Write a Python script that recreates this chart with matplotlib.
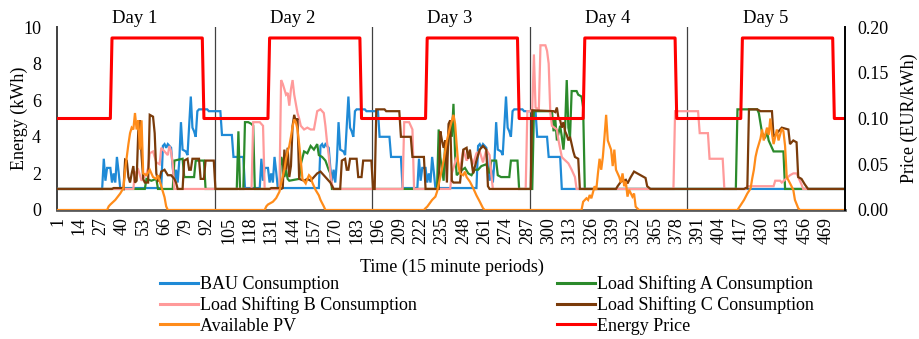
import matplotlib.pyplot as plt
from matplotlib.lines import Line2D
from matplotlib.ticker import FormatStrFormatter

# (period, energy kWh) vertices, 15 minute periods 1..480
bau = [(1, 1.15), (28, 1.15), (29, 2.8), (30, 1.6), (31, 2.3), (33, 2.3), (34, 1.5), (35, 2.0), (36, 1.5), (37, 2.9),
       (38, 2.1), (39, 1.2), (64, 1.2), (65, 3.5), (66, 3.6), (67, 3.4), (68, 3.6), (70, 3.4), (71, 2.3), (72, 1.6),
       (73, 2.2), (74, 1.5), (75, 2.7), (76, 4.8), (77, 3.3), (79, 3.2), (80, 3.0), (81, 4.6), (82, 6.2), (83, 4.5),
       (84, 4.3), (85, 4.0), (86, 5.4), (87, 5.5), (92, 5.5), (93, 5.4),
       (100, 5.4), (101, 4.1), (107, 4.1), (108, 2.9), (114, 2.9), (115, 1.2), (124, 1.2), (125, 2.8), (126, 1.6), (127, 2.3),
       (129, 2.3), (130, 1.5), (131, 2.0), (132, 1.5), (133, 2.9), (134, 2.1), (135, 1.2), (160, 1.2), (161, 3.5), (162, 3.6),
       (163, 3.4), (164, 3.6), (166, 3.4), (167, 2.3), (168, 1.6), (169, 2.2), (170, 1.5), (171, 2.7), (172, 4.8), (173, 3.3),
       (175, 3.2), (176, 3.0), (177, 4.6), (178, 6.2), (179, 4.5), (180, 4.3), (181, 4.0), (182, 5.4), (183, 5.5), (188, 5.5),
       (189, 5.4),
       (196, 5.4), (197, 4.0), (203, 4.0), (204, 2.9), (210, 2.9), (211, 1.2), (220, 1.2), (221, 2.8), (222, 1.6), (223, 2.3),
       (225, 2.3), (226, 1.5), (227, 2.0), (228, 1.5), (229, 2.9), (230, 2.1), (231, 1.2), (256, 1.2), (257, 3.5), (258, 3.6),
       (259, 3.4), (260, 3.6), (262, 3.4), (263, 2.3), (264, 1.6), (265, 2.2), (266, 1.5), (267, 2.7), (268, 4.8), (269, 3.3),
       (271, 3.2), (272, 3.0), (273, 4.6), (274, 6.2), (275, 4.5), (276, 4.3), (277, 4.0), (278, 5.4), (279, 5.5), (284, 5.5),
       (285, 5.4),
       (292, 5.4), (293, 4.0), (299, 4.0), (300, 2.9), (307, 2.9), (308, 1.15), (480, 1.15)]

ls_a = [(1, 1.15), (54, 1.15), (55, 1.7), (58, 1.6), (61, 1.7), (62, 1.15), (71, 1.15), (72, 2.7), (77, 2.8), (78, 1.8),
        (84, 1.8), (85, 2.7), (90, 2.7), (91, 1.15),
        (110, 1.15), (111, 4.3), (112, 1.15), (114, 1.15), (115, 4.8), (117, 4.8), (119, 4.7), (120, 4.6), (121, 1.15),
        (136, 1.15), (137, 2.9), (138, 2.6), (139, 1.8), (140, 2.2), (141, 1.7), (142, 1.6), (148, 1.7), (149, 2.5), (151, 3.2),
        (153, 3.1), (155, 3.5), (157, 3.3), (159, 3.6), (160, 3.0), (162, 2.9), (164, 2.7), (166, 2.2), (167, 2.0), (168, 1.15),
        (232, 1.15), (233, 4.4), (234, 2.9), (236, 1.6), (237, 3.8), (238, 2.9), (240, 4.8), (241, 4.0), (242, 5.8), (243, 3.0),
        (244, 1.9), (246, 2.1), (249, 2.3), (251, 2.0), (253, 1.9), (255, 2.2), (257, 2.2), (259, 2.4), (262, 2.5), (264, 2.0),
        (265, 2.7), (268, 2.7), (269, 1.9), (271, 1.8), (276, 1.8), (277, 2.7), (281, 2.7), (282, 1.15),
        (290, 1.15), (291, 5.4), (302, 5.4), (303, 4.3), (304, 5.0), (305, 3.8), (307, 4.6), (308, 4.0), (309, 3.3), (310, 4.5),
        (311, 7.1), (312, 4.5), (313, 4.0), (314, 6.5), (317, 6.5), (318, 6.3), (320, 6.2), (321, 5.6), (322, 1.15),
        (414, 1.15), (415, 5.5), (427, 5.5), (428, 5.3), (430, 4.2), (432, 4.0), (433, 4.3), (434, 3.8), (436, 3.4), (437, 3.2),
        (443, 3.2), (444, 1.15), (480, 1.15)]

ls_b = [(1, 1.15), (47, 1.15), (48, 2.0), (50, 2.2), (52, 1.6), (55, 2.0), (56, 2.3), (57, 3.1), (59, 3.2), (61, 2.6),
        (63, 2.5), (64, 3.4), (66, 3.2), (68, 3.0), (69, 3.5), (70, 3.2), (71, 2.5), (72, 1.15),
        (119, 1.15), (120, 4.8), (124, 4.8), (125, 4.7), (126, 4.6), (127, 1.15),
        (136, 1.15), (137, 7.1), (138, 6.9), (139, 6.6), (140, 6.3), (141, 6.4), (142, 5.7), (143, 6.6), (144, 7.1), (145, 6.3),
        (146, 5.8), (147, 5.3), (148, 5.0), (149, 4.6), (151, 4.4), (153, 4.5), (155, 4.4), (157, 4.4), (158, 4.9), (159, 5.4),
        (161, 5.5), (163, 5.3), (164, 4.6), (165, 3.7), (166, 3.0), (167, 2.0), (168, 1.4), (169, 1.15),
        (211, 1.15), (212, 4.8), (215, 4.8), (216, 4.6), (217, 4.4), (218, 1.15),
        (240, 1.15), (241, 2.0), (244, 2.9), (246, 2.2), (248, 3.3), (250, 2.7), (252, 3.0), (254, 2.5), (256, 3.1), (258, 3.2),
        (260, 2.6), (262, 3.3), (264, 3.0), (265, 2.0), (266, 1.15),
        (286, 1.15), (287, 5.4), (289, 5.4), (290, 5.5), (291, 8.5), (292, 5.6), (294, 5.5), (295, 9.0), (298, 9.0), (299, 8.7),
        (300, 8.0), (301, 5.3), (302, 4.6), (305, 4.4), (306, 3.8), (308, 2.9), (309, 2.8), (312, 2.55), (314, 2.2), (316, 1.8),
        (317, 1.15),
        (376, 1.15), (377, 5.4), (391, 5.4), (392, 4.2), (397, 4.2), (398, 2.8), (406, 2.8), (407, 1.15),
        (420, 1.15), (421, 1.3), (437, 1.3), (438, 1.6), (441, 1.6), (442, 1.5), (447, 1.9), (449, 2.0), (451, 2.0), (452, 1.8),
        (454, 1.4), (455, 1.15), (480, 1.15)]

ls_c = [(1, 1.15), (34, 1.15), (35, 1.2), (40, 1.2), (41, 1.15), (42, 2.75), (43, 2.7), (44, 1.8), (45, 1.5), (46, 2.0),
        (47, 2.4), (48, 1.5), (49, 1.6), (50, 4.3), (51, 4.9), (52, 3.0), (53, 1.7), (54, 1.5), (56, 1.5), (57, 5.2),
        (59, 5.1), (60, 4.2), (61, 2.0), (62, 1.6), (63, 1.7), (64, 2.1), (66, 2.2), (68, 1.9), (70, 1.9), (72, 1.7),
        (73, 1.5), (74, 1.15), (77, 1.15), (78, 2.7), (80, 2.8), (81, 2.2), (82, 2.2), (83, 2.8), (87, 2.8), (88, 1.7),
        (90, 1.7), (91, 2.7), (96, 2.7),
        (97, 1.15), (130, 1.15), (131, 1.2), (136, 1.2), (137, 1.15), (138, 1.2), (139, 3.3), (140, 2.2), (141, 3.4), (142, 1.8),
        (143, 2.4), (144, 4.6), (145, 5.2), (146, 4.8), (147, 5.0), (148, 1.7), (151, 1.6), (153, 1.7), (155, 1.6), (157, 1.8),
        (159, 2.0), (161, 2.1), (163, 1.9), (165, 1.7), (167, 1.5), (169, 1.15), (173, 1.15), (174, 2.7), (176, 2.8), (177, 2.2),
        (178, 2.2), (179, 2.8), (183, 2.8), (184, 1.8), (186, 1.8), (187, 2.7), (192, 2.7),
        (193, 1.15), (194, 1.15), (195, 5.5), (200, 5.5), (201, 5.4), (209, 5.4), (210, 4.0), (216, 4.0), (217, 2.9), (224, 2.9),
        (225, 1.15), (233, 1.15), (234, 4.3), (235, 3.8), (236, 3.4), (237, 3.8), (238, 1.5), (239, 4.7), (240, 4.9), (241, 1.6),
        (242, 1.5), (246, 1.5), (248, 3.3), (250, 3.4), (251, 2.8), (252, 3.3), (254, 2.0), (256, 2.7), (258, 3.3), (260, 3.5),
        (262, 3.3), (263, 1.3), (264, 1.15),
        (289, 1.15), (290, 5.45), (303, 5.4), (304, 5.35), (305, 5.6), (306, 5.0), (307, 4.9), (308, 4.5), (309, 4.8), (310, 4.3),
        (311, 4.1), (312, 3.8), (313, 4.0), (314, 3.6), (315, 3.2), (316, 2.9), (318, 2.8), (319, 1.15), (341, 1.15), (342, 1.3),
        (344, 1.55), (347, 1.65), (348, 1.45), (350, 1.8), (352, 2.1), (354, 2.0), (357, 1.85), (359, 1.75), (360, 1.3), (362, 1.15),
        (419, 1.15), (420, 1.2), (421, 1.2), (422, 5.5), (427, 5.5), (429, 5.4), (436, 5.4), (437, 4.0), (440, 4.3), (442, 4.5),
        (446, 4.4), (447, 3.6), (449, 3.8), (451, 3.7), (452, 1.8), (454, 1.7), (456, 1.4), (458, 1.15), (480, 1.15)]

pv = [(1, 0), (31, 0), (32, 0.2), (33, 0.3), (36, 0.55), (39, 0.9), (41, 1.2), (42, 2.2), (44, 3.6), (45, 4.2),
      (46, 4.5), (47, 4.4), (48, 5.3), (49, 4.4), (50, 4.9), (51, 3.3), (52, 4.9), (53, 2.0), (55, 1.9), (57, 2.2),
      (59, 1.8), (61, 1.7), (62, 1.9), (64, 1.3), (66, 0.7), (67, 0.2), (68, 0),
      (127, 0), (128, 0.2), (129, 0.3), (132, 0.45), (134, 0.65), (136, 1.0), (137, 1.45), (139, 2.2), (140, 2.8), (141, 3.2),
      (142, 3.5), (143, 4.0), (144, 4.55), (145, 4.95), (146, 4.8), (147, 4.4), (148, 3.6), (149, 2.7), (150, 1.7), (152, 1.45),
      (153, 1.7), (154, 1.9), (155, 1.8), (156, 1.5), (158, 1.1), (160, 0.8), (161, 0.55), (163, 0.2), (164, 0),
      (224, 0), (225, 0.1), (226, 0.18), (229, 0.55), (231, 0.73), (232, 1.0), (234, 1.8), (236, 2.7), (238, 3.8), (240, 4.55),
      (242, 5.2), (243, 4.7), (244, 3.5), (245, 2.4), (246, 2.0), (248, 1.9), (249, 2.1), (250, 1.8), (252, 1.55), (254, 1.2),
      (256, 0.8), (258, 0.46), (260, 0.1), (261, 0),
      (320, 0), (321, 0.45), (323, 0.64), (324, 0.55), (325, 0.82), (326, 0.64), (328, 1.3), (329, 1.1), (330, 2.0), (331, 2.8),
      (332, 2.2), (333, 2.9), (334, 4.0), (335, 5.2), (336, 3.8), (338, 3.3), (339, 2.4), (340, 3.3), (341, 2.2), (343, 1.8),
      (344, 1.5), (345, 2.0), (346, 1.3), (347, 1.55), (348, 0.73), (349, 1.1), (351, 0.73), (352, 0.9), (353, 0.18), (355, 0),
      (415, 0), (417, 0.27), (419, 0.55), (421, 0.9), (423, 1.18), (424, 1.73), (425, 2.2), (426, 2.9), (427, 3.3), (429, 3.9),
      (430, 4.4), (431, 3.8), (433, 4.5), (434, 4.1), (435, 5.0), (436, 4.2), (437, 3.6), (439, 4.4), (440, 3.8), (442, 4.45),
      (443, 4.3), (444, 3.5), (445, 1.8), (447, 1.46), (449, 1.1), (450, 0.55), (452, 0.1), (453, 0), (480, 0)]

# (period, EUR/kWh)
price = [(1, 0.10), (33, 0.10), (34, 0.188), (89, 0.188), (90, 0.10), (129, 0.10), (130, 0.188), (185, 0.188),
         (186, 0.10), (225, 0.10), (226, 0.188), (281, 0.188), (282, 0.10), (321, 0.10), (322, 0.188), (377, 0.188),
         (378, 0.10), (417, 0.10), (418, 0.188), (473, 0.188), (474, 0.10), (480, 0.10)]

days = ['Day 1', 'Day 2', 'Day 3', 'Day 4', 'Day 5']
labels = ['BAU Consumption', 'Load Shifting A Consumption', 'Load Shifting B Consumption',
          'Load Shifting C Consumption', 'Available PV', 'Energy Price']
colors = ['#1f8ad6', '#2b8a2b', '#ff9a9a', '#7a3b0a', '#ff8c1a', '#ff0000']

plt.rcParams['font.family'] = ['Liberation Serif', 'DejaVu Serif']
plt.rcParams['font.size'] = 13

fig = plt.figure(figsize=(9.19, 3.39), dpi=100)
ax = fig.add_axes([57 / 919, 1 - 210 / 339, 788 / 919, 183 / 339])
ax2 = ax.twinx()

# day separators
for i in range(1, len(days)):
    ax.axvline(96 * i + 0.5, color='#404040', lw=0.9, zorder=1)
for i, d in enumerate(days):
    ax.text(96 * i + 48, 10.45, d, ha='center', va='center', fontsize=13.5, clip_on=False)

series = [bau, ls_a, ls_b, ls_c, pv]
for s, c in zip(series, colors[:5]):
    t, e = zip(*s)
    ax.plot(t, e, color=c, lw=1.6, zorder=3, solid_joinstyle='miter')

pt, pp = zip(*price)
ax2.plot(pt, pp, color=colors[5], lw=2.2)

ax.set_xlim(0.5, 480.5)
ax.set_ylim(0, 10)
ax2.set_ylim(0, 0.2)
ticks = list(range(1, 481, 13))
ax.set_xticks(ticks)
ax.set_xticklabels([str(t) for t in ticks], rotation=90)
ax.set_yticks(range(0, 11, 2))
ax2.set_yticks([0, 0.05, 0.10, 0.15, 0.20])
ax2.yaxis.set_major_formatter(FormatStrFormatter('%.2f'))
ax.tick_params(axis='x', length=0, pad=5, labelsize=13)
ax.tick_params(axis='y', length=0, pad=11.5, labelsize=13)
ax2.tick_params(axis='y', length=0, pad=9, labelsize=13)

for a in (ax, ax2):
    a.spines['top'].set_visible(False)
ax.spines['right'].set_visible(False)
ax2.spines['left'].set_visible(False)
ax2.spines['bottom'].set_visible(False)
ax.spines['left'].set_color('#404040')
ax.spines['left'].set_linewidth(1.4)
ax.spines['bottom'].set_color('#595959')
ax.spines['bottom'].set_linewidth(2.0)
ax2.spines['right'].set_color('#000000')
ax2.spines['right'].set_linewidth(1.4)

fig.text(19.5 / 919, 1 - 118.5 / 339, 'Energy (kWh)', rotation=90, ha='center', va='center', fontsize=13)
fig.text(909 / 919, 1 - 118.5 / 339, 'Price (EUR/kWh)', rotation=90, ha='center', va='center', fontsize=13)
fig.text(452 / 919, 1 - 267.5 / 339, 'Time (15 minute periods)', ha='center', va='center', fontsize=13)

handles = [Line2D([], [], color=c, lw=2.2) for c in colors]
order = [0, 2, 4, 1, 3, 5]
fig.legend([handles[i] for i in order], [labels[i] for i in order], ncol=2, loc='upper left',
           bbox_to_anchor=(160 / 919, 1 - 275 / 339), frameon=False, fontsize=13,
           handlelength=2.1, handletextpad=0.1, columnspacing=7.8, labelspacing=0.19,
           borderpad=0, borderaxespad=0)

fig.savefig('out.png', dpi=100)
